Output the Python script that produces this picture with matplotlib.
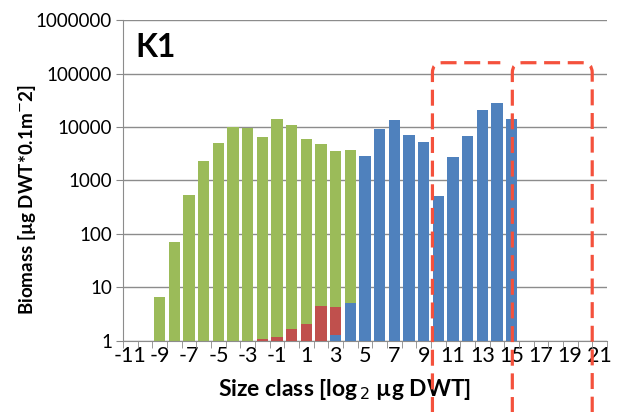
import numpy as np
import matplotlib.pyplot as plt
from matplotlib.path import Path
from matplotlib.patches import PathPatch

plt.rcParams['font.family'] = ['Lato', 'DejaVu Sans']

# size classes on the category axis (log2 ug DWT)
categories = list(range(-11, 22))
tick_labels = [str(c) if c % 2 else "" for c in categories]

# green series
green_x = list(range(-9, 5))
green_y = [6.7, 70, 530, 2300, 5100, 10100, 9500, 6500, 14000, 10700, 6000, 4900, 3500, 3700]

# red series
red_x = [-2, -1, 0, 1, 2, 3]
red_y = [1.06, 1.19, 1.68, 2.1, 4.5, 4.2]

# blue series
blue_x = list(range(3, 16))
blue_y = [1.3, 5.0, 2900, 9000, 13500, 7100, 5150, 510, 2770, 6700, 20700, 28400, 13900]

# dashed highlight boxes: x edges (size class) and top (biomass)
box_edges = [9.6, 15.05, 20.5]
box_top = 160000

fig = plt.figure(figsize=(6.25, 4.12), dpi=100)
ax = fig.add_axes([0.197, 0.173, 0.774, 0.778])

w = 0.78
ax.bar(green_x, np.array(green_y) - 1, bottom=1, width=w, color="#9BBB59", zorder=2)
ax.bar(red_x, np.array(red_y) - 1, bottom=1, width=w, color="#C0504D", zorder=3)
ax.bar(blue_x, np.array(blue_y) - 1, bottom=1, width=w, color="#4F81BD", zorder=4)

ax.set_yscale("log")
ax.set_ylim(1, 1e6)
ax.set_xlim(-11.5, 21.5)
ax.set_yticks([1, 10, 100, 1000, 10000, 100000, 1000000])
ax.set_yticklabels(["1", "10", "100", "1000", "10000", "100000", "1000000"], fontsize=13.5)
ax.yaxis.set_minor_locator(plt.NullLocator())
ax.set_xticks(categories)
ax.set_xticklabels(tick_labels, fontsize=15.5)
ax.set_xticks(np.arange(-11.5, 22, 1), minor=True)
ax.tick_params(axis="x", which="major", length=0, pad=4)
ax.tick_params(axis="x", which="minor", length=5, color="#888888", direction="out")
ax.tick_params(axis="y", length=5, color="#888888", pad=3)

ax.grid(axis="y", color="#8c8c8c", lw=1, zorder=0)
ax.set_axisbelow(True)
for s in ["top", "right"]:
    ax.spines[s].set_visible(False)
for s in ["left", "bottom"]:
    ax.spines[s].set_color("#8c8c8c")

ax.set_xlabel("Size class [log$_{\\,2}$ µg DWT]", fontsize=16.5, fontweight="bold")
ax.xaxis.set_label_coords(0.457, -0.112)
ax.set_ylabel("Biomass [µg DWT*0.1m$^{-}$2]", fontsize=13.5, fontweight="bold")
ax.yaxis.set_label_coords(-0.176, 0.44)

ax.text(0.025, 0.96, "K1", transform=ax.transAxes, fontsize=23, fontweight="bold",
        va="top", ha="left")

# open-bottom rounded dashed boxes, built in pixel space
fig.canvas.draw()
to_px = ax.transData.transform
x1, x2, x3 = [to_px((e, 1))[0] for e in box_edges]
ytop = to_px((0, box_top))[1]
ybot = -5
r = 10
red = "#F4513C"

box1 = Path([(x1, ybot), (x1, ytop - r), (x1, ytop), (x1 + r, ytop), (x2 - 12, ytop)],
            [Path.MOVETO, Path.LINETO, Path.CURVE3, Path.CURVE3, Path.LINETO])
box2 = Path([(x2, ybot), (x2, ytop - r), (x2, ytop), (x2 + r, ytop), (x3 - r, ytop),
             (x3, ytop), (x3, ytop - r), (x3, ybot)],
            [Path.MOVETO, Path.LINETO, Path.CURVE3, Path.CURVE3, Path.LINETO,
             Path.CURVE3, Path.CURVE3, Path.LINETO])
for p in (box1, box2):
    patch = PathPatch(p, transform=None, fill=False, edgecolor=red, lw=2.3,
                      linestyle=(0, (5, 2.4)), clip_on=False, zorder=10)
    fig.add_artist(patch)

fig.savefig("out.png", dpi=100)
